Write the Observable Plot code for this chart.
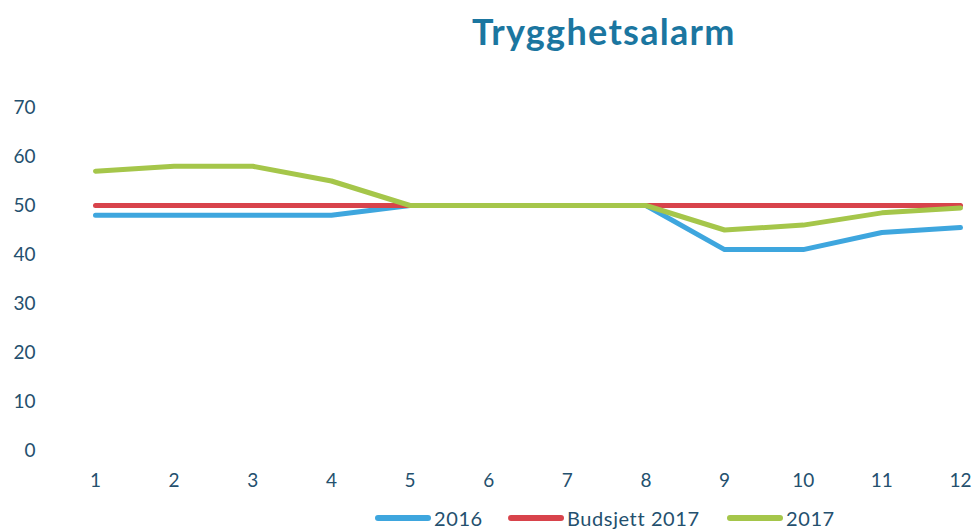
<!DOCTYPE html>
<html>
<head>
<meta charset="utf-8">
<script src="https://cdn.jsdelivr.net/npm/d3@7"></script>
<script src="https://cdn.jsdelivr.net/npm/@observablehq/plot@0.6"></script>
<style>
  html, body { margin: 0; padding: 0; background: #fff; }
  #wrap { position: relative; width: 974px; height: 530px; overflow: hidden; font-family: Lato, "Open Sans", sans-serif; }
  #title { position: absolute; left: 0; width: 974px; top: 9px; font-weight: bold; font-size: 36px; letter-spacing: 1.3px; color: #1b76a0; }
  #title span { position: absolute; left: 472px; white-space: nowrap; }
  .leg { position: absolute; top: 507px; height: 22px; line-height: 22px; display: flex; align-items: center; font-size: 20px; letter-spacing: 0.6px; color: #24506e; white-space: nowrap; }
  .sw { display: inline-block; width: 56px; height: 6px; border-radius: 3px; margin-right: 3px; }
  #chart { position: absolute; left: 0; top: 0; }
</style>
</head>
<body>
<div id="wrap">
  <div id="chart"></div>
  <div id="title"><span>Trygghetsalarm</span></div>
  <div id="legend"></div>
</div>
<script>
const months = [1, 2, 3, 4, 5, 6, 7, 8, 9, 10, 11, 12];
const seriesNames = ["2016", "Budsjett 2017", "2017"];
const values2016 = [48, 48, 48, 48, 50, 50, 50, 50, 41, 41, 44.5, 45.5];
const valuesBudsjett2017 = [50, 50, 50, 50, 50, 50, 50, 50, 50, 50, 50, 50];
const values2017 = [57, 58, 58, 55, 50, 50, 50, 50, 45, 46, 48.5, 49.5];
const yTicks = [0, 10, 20, 30, 40, 50, 60, 70];
const colors = ["#3ea6de", "#d8434b", "#a5c64a"];

const allValues = [values2016, valuesBudsjett2017, values2017];
const data = [];
seriesNames.forEach((s, i) => months.forEach((m, j) => data.push({series: s, month: m, value: allValues[i][j]})));

const labelColor = "#24506e";
const chart = Plot.plot({
  width: 974,
  height: 530,
  marginLeft: 95,
  marginRight: 14,
  marginTop: 107,
  marginBottom: 80,
  style: {fontFamily: "Lato, 'Open Sans', sans-serif", fontSize: "19px", color: labelColor, background: "transparent"},
  x: {domain: [1, 12], ticks: months},
  y: {domain: [0, 70], ticks: yTicks},
  color: {domain: seriesNames, range: colors},
  marks: [
    Plot.axisY({ticks: yTicks, tickSize: 0, tickPadding: 60, fill: labelColor, label: null}),
    Plot.axisX({ticks: months, tickSize: 0, tickPadding: 23, fill: labelColor, label: null, tickFormat: d => String(d)}),
    ...seriesNames.map(s => Plot.line(data.filter(d => d.series === s), {
      x: "month", y: "value", stroke: "series", strokeWidth: 5, strokeLinecap: "round", strokeLinejoin: "round"
    }))
  ]
});
document.getElementById("chart").appendChild(chart);

const legPos = [375, 508, 727];
const legend = document.getElementById("legend");
seriesNames.forEach((s, i) => {
  const item = document.createElement("div");
  item.className = "leg";
  item.style.left = legPos[i] + "px";
  item.innerHTML = `<span class="sw" style="background:${colors[i]}"></span><span>${s}</span>`;
  legend.appendChild(item);
});
</script>
</body>
</html>
